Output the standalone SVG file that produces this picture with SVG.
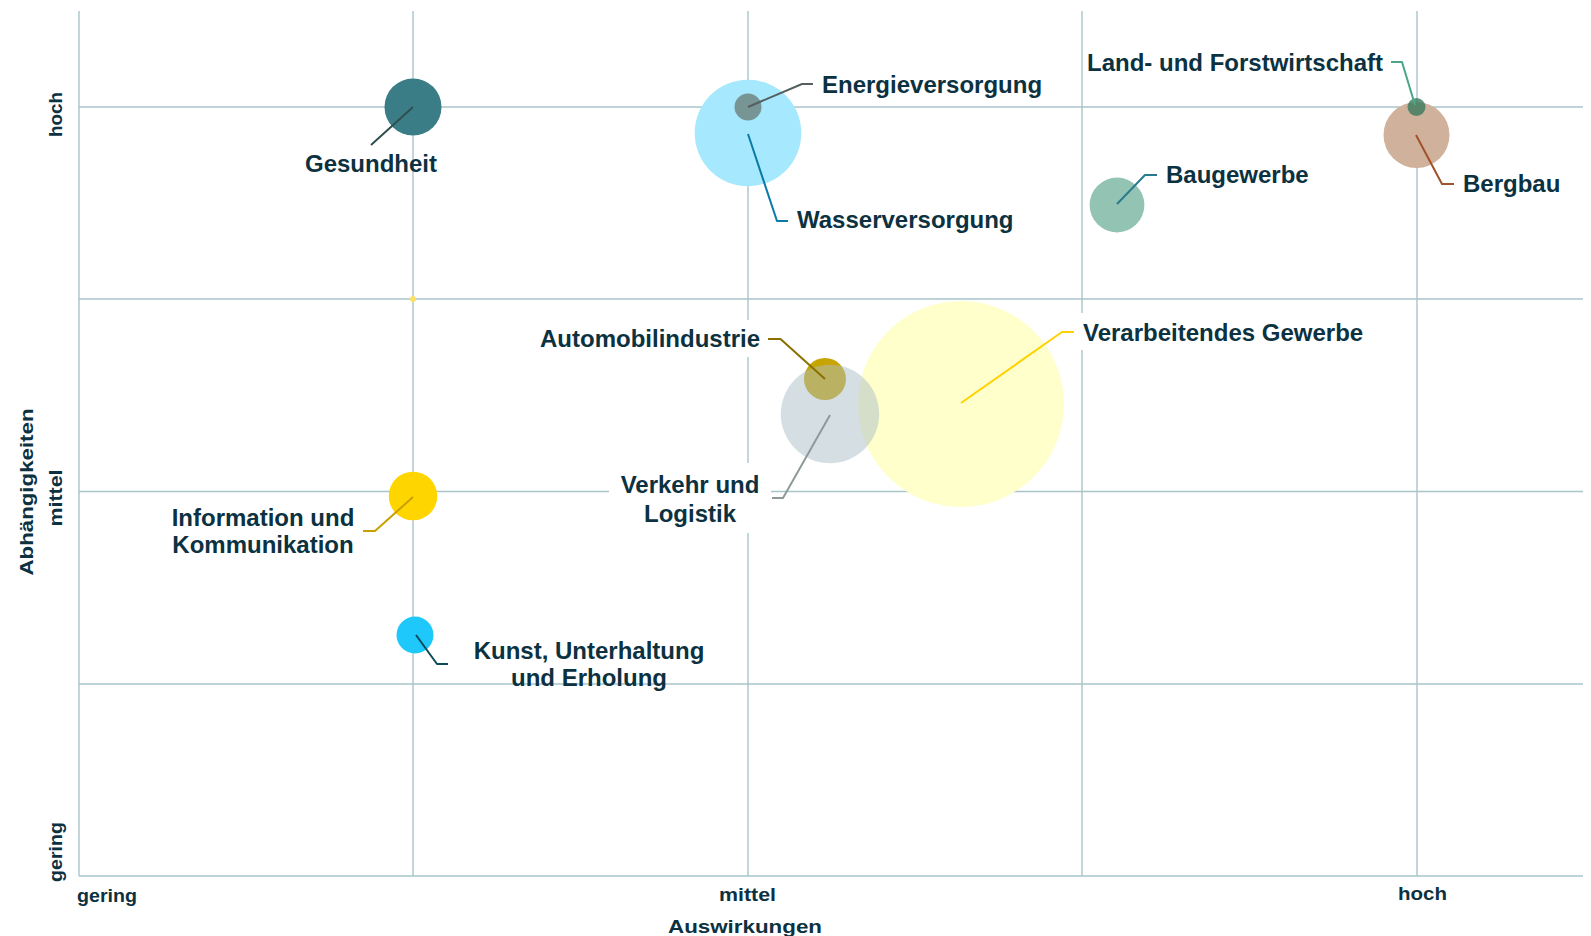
<svg xmlns="http://www.w3.org/2000/svg" width="1591" height="936" viewBox="0 0 1591 936">
<style>
.grid{stroke:#a9c4cb;stroke-width:1.4;fill:none}
.lbl{font-family:"Liberation Sans",Arial,sans-serif;font-weight:bold;font-size:24px;fill:#0c3140}
.ax{font-family:"Liberation Sans",Arial,sans-serif;font-weight:bold;font-size:19px;fill:#0c3140}
.bg{fill:#ffffff}
.lead{fill:none;stroke-width:2;stroke-linejoin:round}
</style>
<rect width="1591" height="936" fill="#ffffff"/>
<g id="grid">
<line class="grid" x1="79" y1="11" x2="79" y2="876"/>
<line class="grid" x1="413" y1="11" x2="413" y2="876"/>
<line class="grid" x1="748" y1="11" x2="748" y2="876"/>
<line class="grid" x1="1082" y1="11" x2="1082" y2="876"/>
<line class="grid" x1="1417" y1="11" x2="1417" y2="876"/>
<line class="grid" x1="79" y1="107" x2="1583" y2="107"/>
<line class="grid" x1="79" y1="299" x2="1583" y2="299"/>
<line class="grid" x1="79" y1="491.5" x2="1583" y2="491.5"/>
<line class="grid" x1="79" y1="684" x2="1583" y2="684"/>
<line class="grid" x1="79" y1="876" x2="1583" y2="876"/>
</g>
<g id="axes">
<text class="ax" x="77" y="902" textLength="60" lengthAdjust="spacingAndGlyphs">gering</text>
<text class="ax" x="719" y="901" textLength="57" lengthAdjust="spacingAndGlyphs">mittel</text>
<text class="ax" x="1398" y="900" textLength="49" lengthAdjust="spacingAndGlyphs">hoch</text>
<text class="ax" x="668" y="933" font-size="21" textLength="154" lengthAdjust="spacingAndGlyphs">Auswirkungen</text>
<text class="ax" transform="translate(62,114.5) rotate(-90)" text-anchor="middle" textLength="45" lengthAdjust="spacingAndGlyphs">hoch</text>
<text class="ax" transform="translate(62,498) rotate(-90)" text-anchor="middle" textLength="57" lengthAdjust="spacingAndGlyphs">mittel</text>
<text class="ax" transform="translate(62,852) rotate(-90)" text-anchor="middle" textLength="60" lengthAdjust="spacingAndGlyphs">gering</text>
<text class="ax" transform="translate(33,492) rotate(-90)" text-anchor="middle" font-size="21" textLength="167" lengthAdjust="spacingAndGlyphs">Abhängigkeiten</text>
</g>
<g id="nodes">
<g id="gesundheit">
<circle cx="413" cy="107" r="28.5" fill="#3a7d87"/>
<text class="lbl" x="305" y="172">Gesundheit</text>
</g>
<g id="wasserversorgung">
<circle cx="748" cy="133" r="53.3" fill="#a6e8fd"/>
<text class="lbl" x="797" y="228">Wasserversorgung</text>
</g>
<g id="energieversorgung">
<circle cx="748" cy="107" r="13.5" fill="#6b7f7b" fill-opacity="0.8"/>
<text class="lbl" x="822" y="93">Energieversorgung</text>
</g>
<g id="bergbau">
<circle cx="1416.5" cy="135" r="33" fill="#d0b19c"/>
<text class="lbl" x="1463" y="192">Bergbau</text>
</g>
<g id="landforst">
<circle cx="1416.5" cy="107" r="9" fill="#3a7a5e" fill-opacity="0.8"/>
<text class="lbl" x="1087" y="71">Land- und Forstwirtschaft</text>
</g>
<g id="baugewerbe">
<circle cx="1117" cy="205" r="27.4" fill="#93c4b3"/>
<text class="lbl" x="1166" y="183">Baugewerbe</text>
</g>
<g id="verarbeitendes">
<circle cx="961" cy="404" r="103" fill="#ffffcc"/>
<rect class="bg" x="1076" y="313" width="295" height="37"/>
<text class="lbl" x="1083" y="341">Verarbeitendes Gewerbe</text>
</g>
<g id="automobil">
<circle cx="825" cy="379" r="21" fill="#c8a400"/>
<rect class="bg" x="531" y="320" width="236" height="37"/>
<text class="lbl" x="540" y="347">Automobilindustrie</text>
</g>
<g id="verkehr">
<circle cx="830" cy="414" r="49.2" fill="#acbdc5" fill-opacity="0.5"/>
<rect class="bg" x="609" y="463" width="162" height="70"/>
<text class="lbl" x="690" y="493" text-anchor="middle">Verkehr und</text>
<text class="lbl" x="690" y="522" text-anchor="middle">Logistik</text>
</g>
<g id="info">
<circle cx="413" cy="496" r="24.3" fill="#ffd500"/>
<text class="lbl" x="263" y="526" text-anchor="middle">Information und</text>
<text class="lbl" x="263" y="553" text-anchor="middle">Kommunikation</text>
</g>
<g id="kunst">
<circle cx="415" cy="635" r="18.5" fill="#1ec8fa"/>
<text class="lbl" x="589" y="659" text-anchor="middle">Kunst, Unterhaltung</text>
<text class="lbl" x="589" y="686" text-anchor="middle">und Erholung</text>
</g>
<g id="dot">
<circle cx="413" cy="299" r="3" fill="#ffe066"/>
</g>
</g>
<g id="connectors">
<polyline class="lead" stroke="#2f4f4f" points="413,107 371,145"/>
<polyline class="lead" stroke="#555f5f" points="748,107 802,84 813,84"/>
<polyline class="lead" stroke="#0a7aa6" points="748,134 777,221 788,221"/>
<polyline class="lead" stroke="#4aa58a" points="1415,105 1402,62 1391,62"/>
<polyline class="lead" stroke="#a0522d" points="1416,135 1442,184 1454,184"/>
<polyline class="lead" stroke="#2a7a8c" points="1117,204 1145,175 1157,175"/>
<polyline class="lead" stroke="#8a7000" points="825,379 780.5,339 768,339"/>
<polyline class="lead" stroke="#8e9a9a" points="830,415 783,498 772,498"/>
<polyline class="lead" stroke="#ffd200" points="961,403 1062,332 1074,332"/>
<polyline class="lead" stroke="#c8a000" points="413,497 375,531 363,531"/>
<polyline class="lead" stroke="#0d4a5a" points="416,635 437,664 448,664"/>
</g>
</svg>
